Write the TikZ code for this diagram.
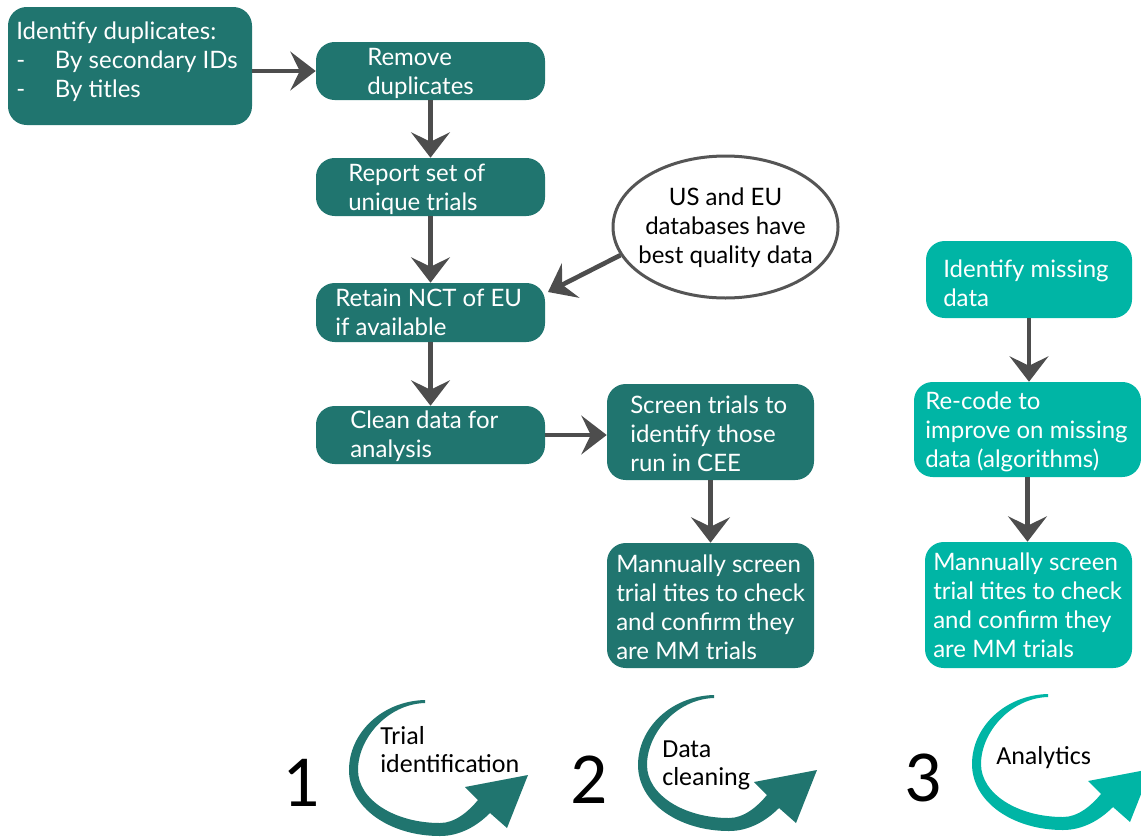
\documentclass[tikz,border=0pt]{standalone}
\usepackage{fontspec}
\setmainfont{Lato}
\newfontfamily\calib{Carlito}
\usetikzlibrary{arrows.meta,shapes.geometric}
\definecolor{dteal}{HTML}{20756F}
\definecolor{lteal}{HTML}{00B5A5}
\definecolor{agray}{HTML}{4D4D4D}
\definecolor{egray}{HTML}{555555}
\tikzset{
  cyc/.pic={\path[pic actions] (425,700) .. controls (382,701) and (349,733) .. (349,770)
      .. controls (349,808) and (390,836) .. (440,836)
      .. controls (460,836) and (477,826) .. (490,813)
      -- (507,828) -- (528,775) -- (465,787) -- (478,800)
      .. controls (468,812) and (455,823) .. (440,823)
      .. controls (395,823) and (358,800) .. (358,770)
      .. controls (358,738) and (388,704) .. (425,703) -- cycle;}
}
\begin{document}
\begin{tikzpicture}[x=0.75pt,y=-0.75pt,
  box/.style={rectangle, rounded corners=14pt, fill=dteal, inner sep=0pt},
  lbox/.style={box, fill=lteal},
  txt/.style={text=white, align=left, inner sep=0pt, font=\fontsize{18}{21.75}\selectfont},
  arr/.style={draw=agray, line width=3.5pt, -{Stealth[length=19pt,width=29pt,inset=7pt]}},
  num/.style={inner sep=0pt, font=\calib\fontsize{55}{60}\selectfont},
  lab/.style={inner sep=0pt, align=left, font=\calib\fontsize{19.5}{21}\selectfont}
]
\useasboundingbox (0,0) rectangle (1141,839);
\clip (0,0) rectangle (1141,839);

% left column
\node[box, minimum width=244*0.75pt, minimum height=118*0.75pt] (b1) at (130,66) {};
\node[txt, anchor=west] (t1) at (16,62) {Identify duplicates:\\\makebox[29pt][l]{-}By secondary IDs\\\makebox[29pt][l]{-}By titles};
\node[box, minimum width=229*0.75pt, minimum height=58*0.75pt] (b2) at (430.5,71) {};
\node[txt, anchor=west] (t2) at (367,73) {Remove\\duplicates};
\node[box, minimum width=229*0.75pt, minimum height=58*0.75pt] (b3) at (430.5,187) {};
\node[txt, anchor=west] (t3) at (348,189.5) {Report set of\\unique trials};
\node[box, minimum width=229*0.75pt, minimum height=59*0.75pt] (b4) at (430.5,312.5) {};
\node[txt, anchor=west] (t4) at (335,312.5) {Retain NCT of EU\\if available};
\node[box, minimum width=229*0.75pt, minimum height=58*0.75pt] (b5) at (430.5,435) {};
\node[txt, anchor=west] (t5) at (350,436.5) {Clean data for\\analysis};

% middle column
\node[box, minimum width=207*0.75pt, minimum height=96*0.75pt] (b6) at (710.5,432) {};
\node[txt, anchor=west] (t6) at (630,434) {Screen trials to\\identify those\\run in CEE};
\node[box, minimum width=207*0.75pt, minimum height=125*0.75pt] (b7) at (710.5,605.5) {};
\node[txt, anchor=west] (t7) at (616,607.5) {Mannually screen\\trial tites to check\\and confirm they\\are MM trials};
\node[ellipse, draw=egray, line width=2.25pt, fill=white, inner sep=0pt,
      minimum width=225*0.75pt, minimum height=142*0.75pt] (ell) at (725.5,227) {};
\node[txt, text=black, align=center] (te) at (725.5,228) {US and EU\\databases have\\best quality data};
\coordinate (c1) at (548,292);

% right column
\node[lbox, minimum width=206*0.75pt, minimum height=77*0.75pt] (b9) at (1029,279.5) {};
\node[txt, anchor=west] (t9) at (943,283) {Identify missing\\data};
\node[lbox, minimum width=227*0.75pt, minimum height=95*0.75pt] (b10) at (1027.5,429.5) {};
\node[txt, anchor=west] (t10) at (925,431.5) {Re-code to\\improve on missing\\data (algorithms)};
\node[lbox, minimum width=207*0.75pt, minimum height=126*0.75pt] (b11) at (1028.5,605) {};
\node[txt, anchor=west] (t11) at (933,605) {Mannually screen\\trial tites to check\\and confirm they\\are MM trials};

% connectors
\draw[arr] (b1.east |- b2.west) -- (b2.west);
\draw[arr] (b2.south) -- (b3.north);
\draw[arr] (b3.south) -- (b4.north);
\draw[arr] (b4.south) -- (b5.north);
\draw[arr] (b5.east) -- (b6.west |- b5.east);
\draw[arr] (b6.south) -- (b7.north);
\draw[arr] (ell.195) -- (c1);
\draw[arr] (b9.south) -- (b9.south |- b10.north);
\draw[arr] (b10.south) -- (b10.south |- b11.north);

% cycle arrows
\pic[fill=dteal] at (0,0) {cyc};
\pic[fill=dteal] at (289,-5) {cyc};
\pic[fill=lteal] at (623,-6) {cyc};

\node[num] (n1) at (301,783) {1};
\node[num] (n2) at (589,780) {2};
\node[num] (n3) at (923.5,777.5) {3};
\node[lab, anchor=west] (l1) at (380,750) {Trial\\identification};
\node[lab, anchor=west] (l2) at (662,765.5) {Data\\cleaning};
\node[lab, anchor=west] (l3) at (996,758) {Analytics};
\end{tikzpicture}
\end{document}
